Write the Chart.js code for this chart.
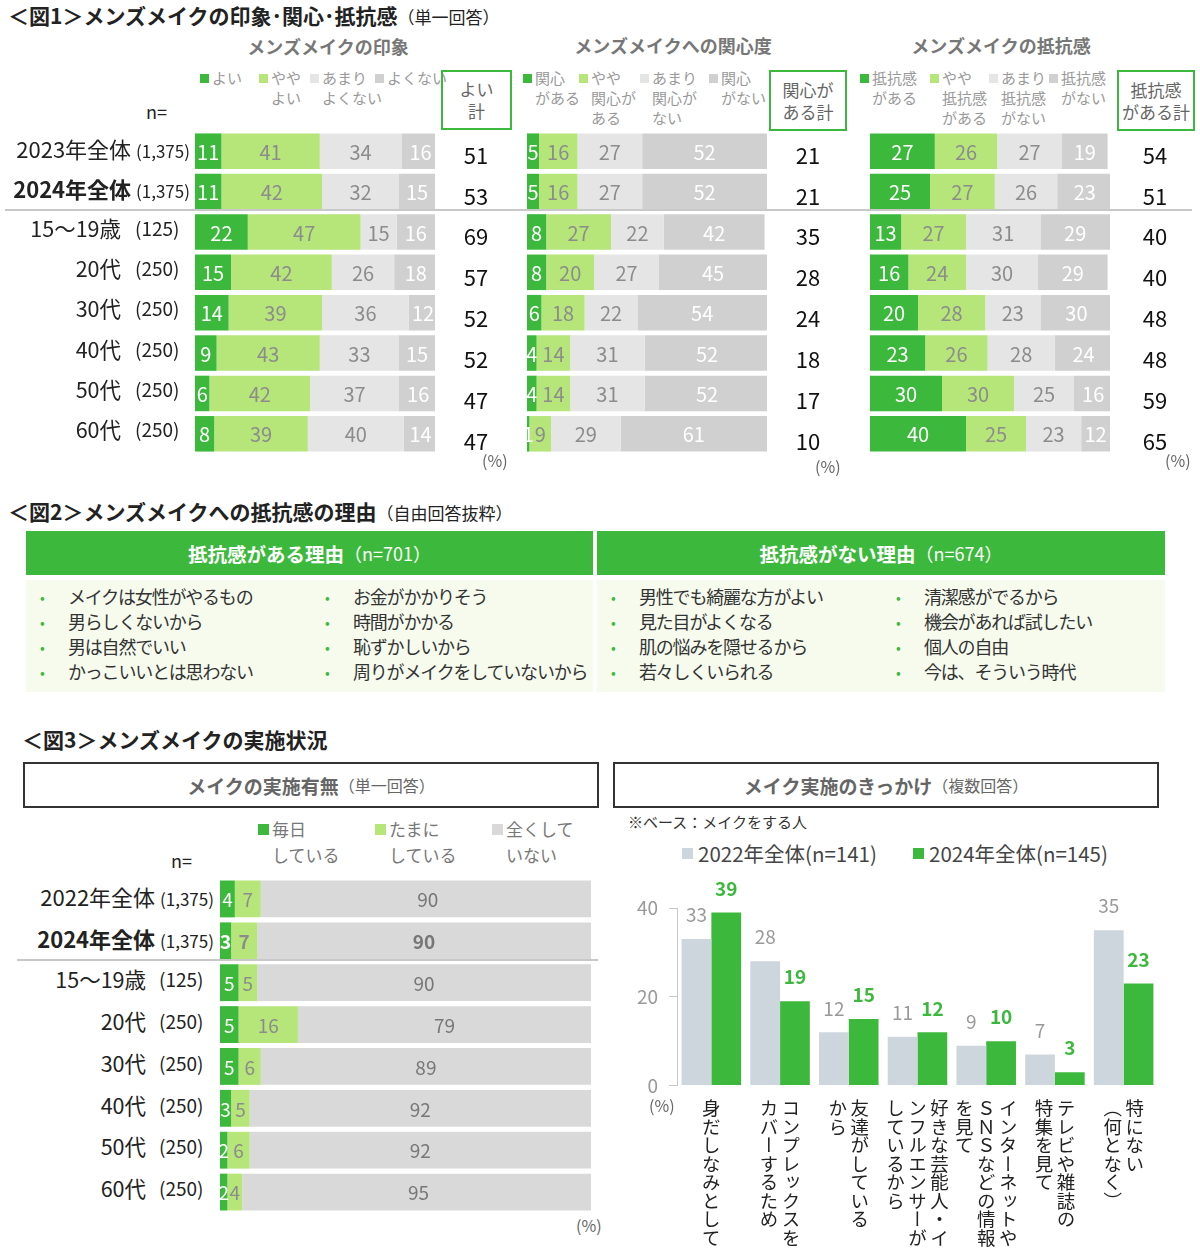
<!DOCTYPE html>
<html lang="ja">
<head>
<meta charset="utf-8">
<script src="https://cdn.jsdelivr.net/npm/chart.js@4.4.1/dist/chart.umd.min.js"></script>
<style>
  body { margin: 0; width: 1200px; height: 1258px; position: relative; overflow: hidden; background: #fff;
         font-family: "Noto Sans CJK JP", "Noto Sans", sans-serif; color: #222; }
  .txt { position: absolute; white-space: nowrap; line-height: 1.2; transform: translateY(-50%); }
  .sq { position: absolute; }
  .box { position: absolute; box-sizing: border-box; display: flex; align-items: center; justify-content: center; text-align: center; }
  .cell { position: absolute; }
  canvas { position: absolute; }
  .vlabel { position: absolute; writing-mode: vertical-rl; font-size: 18.5px; line-height: 22px; color: #222; white-space: nowrap; transform: translateX(-50%); }
</style>
</head>
<body>
<canvas id="impChart" width="323" height="323" style="left:189px;top:131px"></canvas>
<canvas id="intChart" width="325" height="323" style="left:521px;top:131px"></canvas>
<canvas id="resChart" width="330" height="323" style="left:864px;top:131px"></canvas>
<canvas id="makeChart" width="377" height="335" style="left:214px;top:878px"></canvas>
<canvas id="triggerChart" width="550" height="238" style="left:610px;top:870px"></canvas>

<script>
const FONT = '"Noto Sans CJK JP", "Noto Sans", sans-serif';
Chart.defaults.font.family = FONT;

// 図1 行ラベル
const rowLabels = ['2023年全体', '2024年全体', '15〜19歳', '20代', '30代', '40代', '50代', '60代'];
const rowN = ['(1,375)', '(1,375)', '(125)', '(250)', '(250)', '(250)', '(250)', '(250)'];

// 図1 メンズメイクの印象
const impGood = [11, 11, 22, 15, 14, 9, 6, 8];
const impSomewhatGood = [41, 42, 47, 42, 39, 43, 42, 39];
const impNotVeryGood = [34, 32, 15, 26, 36, 33, 37, 40];
const impNotGood = [16, 15, 16, 18, 12, 15, 16, 14];
const impTotal = [51, 53, 69, 57, 52, 52, 47, 47];

// 図1 メンズメイクへの関心度
const intHave = [5, 5, 8, 8, 6, 4, 4, 1];
const intSomewhat = [16, 16, 27, 20, 18, 14, 14, 9];
const intNotVery = [27, 27, 22, 27, 22, 31, 31, 29];
const intNone = [52, 52, 42, 45, 54, 52, 52, 61];
const intTotal = [21, 21, 35, 28, 24, 18, 17, 10];

// 図1 メンズメイクの抵抗感
const resHave = [27, 25, 13, 16, 20, 23, 30, 40];
const resSomewhat = [26, 27, 27, 24, 28, 26, 30, 25];
const resNotVery = [27, 26, 31, 30, 23, 28, 25, 23];
const resNone = [19, 23, 29, 29, 30, 24, 16, 12];
const resTotal = [54, 51, 40, 40, 48, 48, 59, 65];

// 図2 理由
const reasonsYes1 = ['メイクは女性がやるもの', '男らしくないから', '男は自然でいい', 'かっこいいとは思わない'];
const reasonsYes2 = ['お金がかかりそう', '時間がかかる', '恥ずかしいから', '周りがメイクをしていないから'];
const reasonsNo1 = ['男性でも綺麗な方がよい', '見た目がよくなる', '肌の悩みを隠せるから', '若々しくいられる'];
const reasonsNo2 = ['清潔感がでるから', '機会があれば試したい', '個人の自由', '今は、そういう時代'];

// 図3 メイクの実施有無
const makeRows = ['2022年全体', '2024年全体', '15〜19歳', '20代', '30代', '40代', '50代', '60代'];
const makeDaily = [4, 3, 5, 5, 5, 3, 2, 2];
const makeSometimes = [7, 7, 5, 16, 6, 5, 6, 4];
const makeNever = [90, 90, 90, 79, 89, 92, 92, 95];

// 図3 メイク実施のきっかけ
const triggerLabels = [
  ['身だしなみとして'],
  ['コンプレックスを', 'カバーするため'],
  ['友達がしている', 'から'],
  ['好きな芸能人・イ', 'ンフルエンサーが', 'しているから'],
  ['インターネットや', 'ＳＮＳなどの情報', 'を見て'],
  ['テレビや雑誌の', '特集を見て'],
  ['特にない', '（何となく）']
];
const trigger2022 = [33, 28, 12, 11, 9, 7, 35];
const trigger2024 = [39, 19, 15, 12, 10, 3, 23];
const triggerTicks = [0, 20, 40];

const C_DARK = '#3cb93c';
const C_LIGHT = '#b6e57a';
const C_PALE = '#e5e5e5';
const C_GRAY = '#d0d0d0';

// テキスト配置 (y は文字の中心)
function addText(x, y, html, css, align) {
  const el = document.createElement('div');
  el.className = 'txt';
  el.innerHTML = html;
  el.style.cssText = css || '';
  el.style.top = y + 'px';
  if (align === 'right') {
    el.style.right = (1200 - x) + 'px';
  } else if (align === 'center') {
    el.style.left = x + 'px';
    el.style.transform = 'translate(-50%, -50%)';
  } else {
    el.style.left = x + 'px';
  }
  document.body.appendChild(el);
  return el;
}

function addBlock(cls, x, y, w, h, css, html) {
  const el = document.createElement('div');
  el.className = cls;
  el.style.cssText = `left:${x}px;top:${y}px;width:${w}px;height:${h}px;` + (css || '');
  if (html) el.innerHTML = html;
  document.body.appendChild(el);
  return el;
}

function legendItem(x, y, color, lines, sq, gap, lineH, css) {
  addBlock('sq', x, y - sq / 2, sq, sq, 'background:' + color);
  lines.forEach((ln, k) => addText(x + gap, y + k * lineH, ln, css));
}

function addLine(x, y, w) {
  addBlock('cell', x, y, w, 2, 'background:#c8c8c8');
}

// バー中の数値ラベル + 右側の合計
function segmentLabels(size, boldRows, totals, totalsOffset) {
  return {
    id: 'segmentLabels',
    afterDatasetsDraw(chart) {
      const ctx = chart.ctx;
      ctx.save();
      ctx.textAlign = 'center';
      ctx.textBaseline = 'middle';
      chart.data.datasets.forEach((ds, di) => {
        chart.getDatasetMeta(di).data.forEach((bar, i) => {
          const p = bar.getProps(['x', 'base', 'y'], true);
          ctx.font = (boldRows.includes(i) ? 'bold ' : '') + size + 'px ' + FONT;
          ctx.fillStyle = ds.labelColor;
          ctx.fillText(ds.data[i], (p.x + p.base) / 2, p.y + 1);
        });
      });
      if (totals) {
        const meta = chart.getDatasetMeta(0);
        ctx.font = '22px ' + FONT;
        ctx.fillStyle = '#111';
        totals.forEach((v, i) => {
          ctx.fillText(v, chart.chartArea.right + totalsOffset, meta.data[i].y + 4 + i * 0.6);
        });
      }
      ctx.restore();
    }
  };
}

function stackedChart(id, labels, series, opts) {
  return new Chart(document.getElementById(id), {
    type: 'bar',
    data: {
      labels: labels,
      datasets: series.map(s => ({
        data: s.data,
        backgroundColor: s.color,
        labelColor: s.text,
        borderWidth: 0,
        barPercentage: 1,
        categoryPercentage: opts.thickness
      }))
    },
    options: {
      indexAxis: 'y',
      responsive: false,
      animation: false,
      layout: { padding: { left: 6, right: opts.padRight || 0 } },
      plugins: { legend: { display: false }, tooltip: { enabled: false } },
      scales: {
        x: { stacked: true, min: 0, max: 100, display: false },
        y: { stacked: true, display: false }
      }
    },
    plugins: [segmentLabels(opts.size, opts.boldRows || [], opts.totals, opts.totalsOffset)]
  });
}

// 行ラベル (上 2 行は合計、以降は年代)
function rowLabelColumn(labels, firstY, step, rightX, ageRightX, ageNX) {
  labels.forEach((lab, i) => {
    const y = firstY + i * step + (i > 1 ? -1 : 0);
    if (i < 2) {
      const main = i === 1 ? '<b>' + lab + '</b>' : lab;
      addText(rightX, y, main + ' <span style="font-size:17px">' + rowN[i] + '</span>', 'font-size:22px', 'right');
    } else {
      addText(ageRightX, y, lab, 'font-size:21.5px', 'right');
      addText(ageNX, y, rowN[i], 'font-size:19px');
    }
  });
}

// ---------- 図1 ----------
addText(8, 16, '＜図1＞メンズメイクの印象･関心･抵抗感<span style="font-weight:normal;font-size:17px">（単一回答）</span>', 'font-size:21px;font-weight:bold;color:#222');
const panelTitle = 'font-size:18px;font-weight:bold;color:#777';
addText(328, 47, 'メンズメイクの印象', panelTitle, 'center');
addText(673, 46, 'メンズメイクへの関心度', panelTitle, 'center');
addText(1001, 46, 'メンズメイクの抵抗感', panelTitle, 'center');

const lg1 = 'font-size:15px;color:#999';
legendItem(200, 78, C_DARK, ['よい'], 9, 12, 20, lg1);
legendItem(259, 78, C_LIGHT, ['やや', 'よい'], 9, 12, 20, lg1);
legendItem(310, 78, C_PALE, ['あまり', 'よくない'], 9, 12, 20, lg1);
legendItem(375, 78, C_GRAY, ['よくない'], 9, 12, 20, lg1);
legendItem(523, 78, C_DARK, ['関心', 'がある'], 9, 12, 20, lg1);
legendItem(579, 78, C_LIGHT, ['やや', '関心が', 'ある'], 9, 12, 20, lg1);
legendItem(640, 78, C_PALE, ['あまり', '関心が', 'ない'], 9, 12, 20, lg1);
legendItem(709, 78, C_GRAY, ['関心', 'がない'], 9, 12, 20, lg1);
legendItem(860, 78, C_DARK, ['抵抗感', 'がある'], 9, 12, 20, lg1);
legendItem(930, 78, C_LIGHT, ['やや', '抵抗感', 'がある'], 9, 12, 20, lg1);
legendItem(989, 78, C_PALE, ['あまり', '抵抗感', 'がない'], 9, 12, 20, lg1);
legendItem(1049, 78, C_GRAY, ['抵抗感', 'がない'], 9, 12, 20, lg1);

const boxCss = 'border:2px solid #3cb93c;font-size:17px;line-height:22px;color:#666';
addBlock('box', 441, 70, 71, 60, boxCss, 'よい<br>計');
addBlock('box', 769, 70, 78, 61, boxCss, '関心が<br>ある計');
addBlock('box', 1117, 70, 78, 61, boxCss, '抵抗感<br>がある計');

addText(146, 112, 'n=', 'font-size:18px;color:#222');
rowLabelColumn(rowLabels, 148, 40.3, 190, 121, 135);
addLine(5, 209, 1187);
addText(482, 461, '(%)', 'font-size:16px;color:#666');
addText(815, 467, '(%)', 'font-size:16px;color:#666');
addText(1165, 461, '(%)', 'font-size:16px;color:#666');

stackedChart('impChart', rowLabels, [
  { data: impGood, color: C_DARK, text: '#fff' },
  { data: impSomewhatGood, color: C_LIGHT, text: '#8c8c8c' },
  { data: impNotVeryGood, color: C_PALE, text: '#8c8c8c' },
  { data: impNotGood, color: C_GRAY, text: '#fff' }
], { thickness: 0.88, size: 20, padRight: 77, totals: impTotal, totalsOffset: 41 });

stackedChart('intChart', rowLabels, [
  { data: intHave, color: C_DARK, text: '#fff' },
  { data: intSomewhat, color: C_LIGHT, text: '#8c8c8c' },
  { data: intNotVery, color: C_PALE, text: '#8c8c8c' },
  { data: intNone, color: C_GRAY, text: '#fff' }
], { thickness: 0.88, size: 20, padRight: 79, totals: intTotal, totalsOffset: 41 });

stackedChart('resChart', rowLabels, [
  { data: resHave, color: C_DARK, text: '#fff' },
  { data: resSomewhat, color: C_LIGHT, text: '#8c8c8c' },
  { data: resNotVery, color: C_PALE, text: '#8c8c8c' },
  { data: resNone, color: C_GRAY, text: '#fff' }
], { thickness: 0.88, size: 20, padRight: 84, totals: resTotal, totalsOffset: 45 });

// ---------- 図2 ----------
addText(8, 512, '＜図2＞メンズメイクへの抵抗感の理由<span style="font-weight:normal;font-size:17px">（自由回答抜粋）</span>', 'font-size:21px;font-weight:bold;color:#222');
const headCss = 'background:' + C_DARK + ';display:flex;align-items:center;justify-content:center;color:#fff;font-size:19.5px';
addBlock('cell', 26, 531, 567, 44, headCss, '<b>抵抗感がある理由</b><span style="font-size:18px">（n=701）</span>');
addBlock('cell', 597, 531, 568, 44, headCss, '<b>抵抗感がない理由</b><span style="font-size:18px">（n=674）</span>');
addBlock('cell', 26, 580, 567, 112, 'background:#f6fbee');
addBlock('cell', 597, 580, 568, 112, 'background:#f6fbee');
[[40, reasonsYes1], [325, reasonsYes2], [611, reasonsNo1], [896, reasonsNo2]].forEach(([x, list]) => {
  list.forEach((item, k) => {
    const y = 597 + k * 25;
    addText(x, y, '•', 'font-size:14px;color:' + C_DARK);
    addText(x + 28, y, item, 'font-size:18px;letter-spacing:-1.2px;color:#333');
  });
});

// ---------- 図3 ----------
addText(22, 740, '＜図3＞メンズメイクの実施状況', 'font-size:21px;font-weight:bold;color:#222');
const frameCss = 'border:2px solid #333;font-size:19px;color:#666';
addBlock('box', 23, 762, 576, 46, frameCss, '<b>メイクの実施有無</b><span style="font-size:16px">（単一回答）</span>');
addBlock('box', 613, 762, 546, 46, frameCss, '<b>メイク実施のきっかけ</b><span style="font-size:16px">（複数回答）</span>');

const lg3 = 'font-size:17px;color:#777';
legendItem(258, 829, C_DARK, ['毎日', 'している'], 11, 14, 26, lg3);
legendItem(375, 829, C_LIGHT, ['たまに', 'している'], 11, 14, 26, lg3);
legendItem(492, 829, '#d9d9d9', ['全くして', 'いない'], 11, 14, 26, lg3);
addText(171, 861, 'n=', 'font-size:18px;color:#222');

rowLabelColumn(makeRows, 896, 41.9, 214, 146, 159);
addLine(17, 959, 581);
addText(576, 1226, '(%)', 'font-size:16px;color:#666');

stackedChart('makeChart', makeRows, [
  { data: makeDaily, color: C_DARK, text: '#fff' },
  { data: makeSometimes, color: C_LIGHT, text: '#8c8c8c' },
  { data: makeNever, color: '#d9d9d9', text: '#777' }
], { thickness: 0.88, size: 19, boldRows: [1] });

addText(628, 822, '※ベース：メイクをする人', 'font-size:15px;color:#333');
legendItem(682, 853, '#cdd5dd', ['2022年全体(n=141)'], 11, 16, 0, 'font-size:20.5px;color:#444');
legendItem(913, 853, C_DARK, ['2024年全体(n=145)'], 11, 16, 0, 'font-size:20.5px;color:#444');
addText(649, 1106, '(%)', 'font-size:16px;color:#666');

// 縦書きの項目名 (x 軸の位置に合わせる)
const verticalLabels = {
  id: 'verticalLabels',
  afterRender(chart) {
    if (chart.$labelsPlaced) return;
    chart.$labelsPlaced = true;
    const left = chart.canvas.offsetLeft;
    triggerLabels.forEach((lines, i) => {
      const d = document.createElement('div');
      d.className = 'vlabel';
      d.innerHTML = lines.join('<br>');
      d.style.left = (left + chart.scales.x.getPixelForValue(i)) + 'px';
      d.style.top = '1099px';
      document.body.appendChild(d);
    });
  }
};

const barValues = {
  id: 'barValues',
  afterDatasetsDraw(chart) {
    const ctx = chart.ctx;
    ctx.save();
    ctx.textAlign = 'center';
    ctx.textBaseline = 'middle';
    chart.data.datasets.forEach((ds, di) => {
      ctx.font = (ds.labelBold ? 'bold ' : '') + '19px ' + FONT;
      ctx.fillStyle = ds.labelColor;
      chart.getDatasetMeta(di).data.forEach((bar, i) => {
        ctx.fillText(ds.data[i], bar.x, bar.y - 24);
      });
    });
    ctx.restore();
  }
};

new Chart(document.getElementById('triggerChart'), {
  type: 'bar',
  data: {
    labels: triggerLabels.map(l => l.join('')),
    datasets: [
      { label: '2022年全体(n=141)', data: trigger2022, backgroundColor: '#cdd5dd', labelColor: '#999', labelBold: false },
      { label: '2024年全体(n=145)', data: trigger2024, backgroundColor: C_DARK, labelColor: C_DARK, labelBold: true }
    ]
  },
  options: {
    responsive: false,
    animation: false,
    layout: { padding: { top: 38, bottom: 5, right: 2 } },
    datasets: { bar: { categoryPercentage: 0.866, barPercentage: 1, borderWidth: 0 } },
    plugins: { legend: { display: false }, tooltip: { enabled: false } },
    scales: {
      x: { display: false },
      y: {
        min: 0,
        max: 40,
        afterBuildTicks: axis => { axis.ticks = triggerTicks.map(v => ({ value: v })); },
        afterFit: axis => { axis.width = 67; },
        grid: { drawOnChartArea: false, color: '#c8c8c8', tickLength: 8 },
        border: { color: '#c8c8c8' },
        ticks: { color: '#999', font: { size: 19 }, padding: 11 }
      }
    }
  },
  plugins: [barValues, verticalLabels]
});
</script>
</body>
</html>
